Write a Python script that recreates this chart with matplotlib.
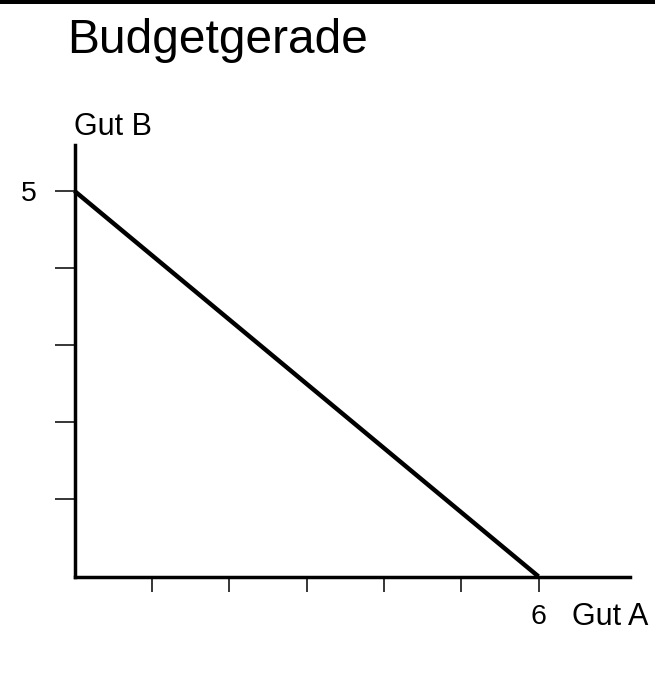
import matplotlib
matplotlib.use("Agg")
import matplotlib.pyplot as plt

plt.rcParams['font.family'] = ['Liberation Sans', 'DejaVu Sans']

# Data
budget_x = [0, 6]          # Gut A quantities
budget_y = [5, 0]          # Gut B quantities
x_ticks = [1, 2, 3, 4, 5, 6]
x_ticklabels = ['', '', '', '', '', '6']
y_ticks = [1, 2, 3, 4, 5]
y_ticklabels = ['', '', '', '', '5']
title = "Budgetgerade"
xlabel = "Gut A"
ylabel = "Gut B"

W, H = 655, 683
fig = plt.figure(figsize=(W / 100, H / 100), dpi=100)

# top black band
fig.add_artist(plt.Rectangle((0, 1 - 4 / H), 1, 4 / H, transform=fig.transFigure,
                             color='black', lw=0))

x0, y0 = 74.5, 576.5
x1, y1 = 630, 145
ax = fig.add_axes([x0 / W, (H - y0) / H, (x1 - x0) / W, (y0 - y1) / H])
ux = (538.5 - x0) / 6
uy = (y0 - 191) / 5
ax.set_xlim(0, (x1 - x0) / ux)
ax.set_ylim(0, (y0 - y1) / uy)

ax.plot(budget_x, budget_y, color='black', lw=3.2, solid_capstyle='butt', clip_on=False)

for s in ['top', 'right']:
    ax.spines[s].set_visible(False)
for s in ['left', 'bottom']:
    ax.spines[s].set_linewidth(2.5)
    ax.spines[s].set_capstyle('projecting')

ax.set_xticks(x_ticks)
ax.set_xticklabels(x_ticklabels)
ax.set_yticks(y_ticks)
ax.set_yticklabels(y_ticklabels)
ax.tick_params(axis='x', direction='out', length=11, width=1.1, pad=9, labelsize=20.5)
ax.tick_params(axis='y', direction='out', length=14.5, width=1.1, pad=13, labelsize=20.5)

fig.text(67 / W, 1 - 53 / H, title, fontsize=34.5, ha='left', va='baseline')
fig.text(74 / W, 1 - 135 / H, ylabel, fontsize=22, ha='left', va='baseline')
fig.text(572 / W, 1 - 625 / H, xlabel, fontsize=22, ha='left', va='baseline')

fig.savefig("out.png", dpi=100)
